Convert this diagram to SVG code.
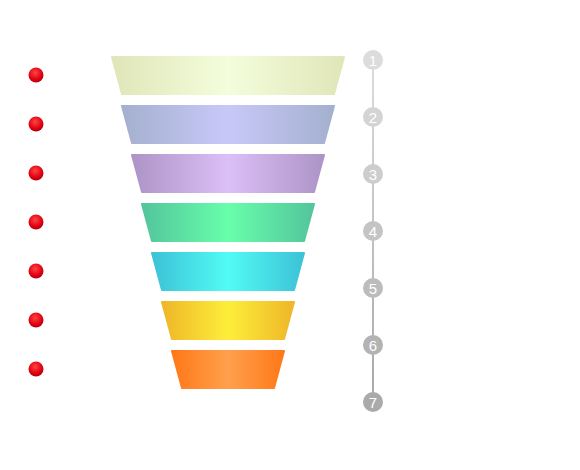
<svg xmlns="http://www.w3.org/2000/svg" width="580" height="470" viewBox="0 0 580 470">
<defs>
<style>
.layer{stroke-linejoin:round;stroke-width:2}
.num{font-family:"Liberation Sans",Arial,sans-serif;font-size:15px;fill:#fff;text-anchor:middle}
</style>
<linearGradient id="g1" x1="0" x2="1"><stop offset="0" stop-color="#e0e6b8"/><stop offset="0.5" stop-color="#f4fddc"/><stop offset="1" stop-color="#e0e6b8"/></linearGradient>
<linearGradient id="g2" x1="0" x2="1"><stop offset="0" stop-color="#a4b0cf"/><stop offset="0.5" stop-color="#c8c8f8"/><stop offset="1" stop-color="#a4b0cf"/></linearGradient>
<linearGradient id="g3" x1="0" x2="1"><stop offset="0" stop-color="#ad94c6"/><stop offset="0.5" stop-color="#dbbff7"/><stop offset="1" stop-color="#ad94c6"/></linearGradient>
<linearGradient id="g4" x1="0" x2="1"><stop offset="0" stop-color="#53c59c"/><stop offset="0.5" stop-color="#68feab"/><stop offset="1" stop-color="#53c59c"/></linearGradient>
<linearGradient id="g5" x1="0" x2="1"><stop offset="0" stop-color="#3cc2d6"/><stop offset="0.5" stop-color="#52fbf5"/><stop offset="1" stop-color="#3cc2d6"/></linearGradient>
<linearGradient id="g6" x1="0" x2="1"><stop offset="0" stop-color="#eeb628"/><stop offset="0.5" stop-color="#fdee3a"/><stop offset="1" stop-color="#eeb628"/></linearGradient>
<linearGradient id="g7" x1="0" x2="1"><stop offset="0" stop-color="#ff7818"/><stop offset="0.5" stop-color="#ffa04c"/><stop offset="1" stop-color="#ff7818"/></linearGradient>
<radialGradient id="red" cx="0.45" cy="0.35" r="0.65"><stop offset="0" stop-color="#f44"/><stop offset="0.7" stop-color="#e00010"/><stop offset="1" stop-color="#b00010"/></radialGradient>
<linearGradient id="lineg" gradientUnits="userSpaceOnUse" x1="373" y1="60" x2="373" y2="402"><stop offset="0" stop-color="#dcdcdc"/><stop offset="1" stop-color="#a8a8a8"/></linearGradient>
</defs>
<g id="connectors">
<line x1="373" y1="60" x2="373" y2="402" stroke="url(#lineg)" stroke-width="2"/>
</g>
<g id="layer1"><polygon class="layer" fill="url(#g1)" stroke="url(#g1)" points="112,57 344,57 334,94 122,94"/></g>
<g id="layer2"><polygon class="layer" fill="url(#g2)" stroke="url(#g2)" points="122,106 334,106 324,143 132,143"/></g>
<g id="layer3"><polygon class="layer" fill="url(#g3)" stroke="url(#g3)" points="132,155 324,155 314,192 142,192"/></g>
<g id="layer4"><polygon class="layer" fill="url(#g4)" stroke="url(#g4)" points="142,204 314,204 304,241 152,241"/></g>
<g id="layer5"><polygon class="layer" fill="url(#g5)" stroke="url(#g5)" points="152,253 304,253 294,290 162,290"/></g>
<g id="layer6"><polygon class="layer" fill="url(#g6)" stroke="url(#g6)" points="162,302 294,302 284,339 172,339"/></g>
<g id="layer7"><polygon class="layer" fill="url(#g7)" stroke="url(#g7)" points="172,351 284,351 274,388 182,388"/></g>
<g id="dot1"><circle cx="36" cy="75" r="7.5" fill="url(#red)"/></g>
<g id="dot2"><circle cx="36" cy="124" r="7.5" fill="url(#red)"/></g>
<g id="dot3"><circle cx="36" cy="173" r="7.5" fill="url(#red)"/></g>
<g id="dot4"><circle cx="36" cy="222" r="7.5" fill="url(#red)"/></g>
<g id="dot5"><circle cx="36" cy="271" r="7.5" fill="url(#red)"/></g>
<g id="dot6"><circle cx="36" cy="320" r="7.5" fill="url(#red)"/></g>
<g id="dot7"><circle cx="36" cy="369" r="7.5" fill="url(#red)"/></g>
<g id="n1"><circle cx="373" cy="60" r="10" fill="#dcdcdc"/><text class="num" x="373" y="65.5">1</text></g>
<g id="n2"><circle cx="373" cy="117" r="10" fill="#d4d4d4"/><text class="num" x="373" y="122.5">2</text></g>
<g id="n3"><circle cx="373" cy="174" r="10" fill="#cdcdcd"/><text class="num" x="373" y="179.5">3</text></g>
<g id="n4"><circle cx="373" cy="231" r="10" fill="#c4c4c4"/><text class="num" x="373" y="236.5">4</text></g>
<g id="n5"><circle cx="373" cy="288" r="10" fill="#bcbcbc"/><text class="num" x="373" y="293.5">5</text></g>
<g id="n6"><circle cx="373" cy="345" r="10" fill="#b3b3b3"/><text class="num" x="373" y="350.5">6</text></g>
<g id="n7"><circle cx="373" cy="402" r="10" fill="#aaaaaa"/><text class="num" x="373" y="407.5">7</text></g>
</svg>
